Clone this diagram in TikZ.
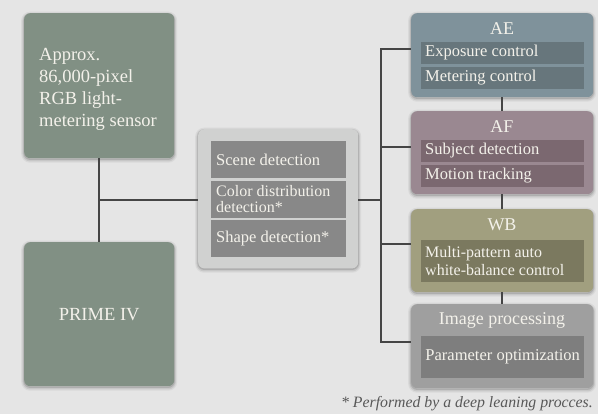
\documentclass[tikz,border=0pt]{standalone}
\usepackage{fontspec}
\setmainfont{Liberation Serif}
\usetikzlibrary{calc}
\definecolor{bg}{HTML}{E5E5E5}
\definecolor{leftc}{HTML}{819084}
\definecolor{cenc}{HTML}{D0D1D0}
\definecolor{ceni}{HTML}{888888}
\definecolor{aec}{HTML}{7F929B}
\definecolor{aei}{HTML}{67767C}
\definecolor{afc}{HTML}{9A8891}
\definecolor{afi}{HTML}{7B6870}
\definecolor{wbc}{HTML}{A19F7F}
\definecolor{wbi}{HTML}{7B795F}
\definecolor{ipc}{HTML}{9F9F9F}
\definecolor{ipi}{HTML}{7E7E7E}
\definecolor{linec}{HTML}{454545}
\definecolor{txt}{HTML}{F3F1EA}
\tikzset{
  bigbox/.style={anchor=north west, inner sep=0pt, rounded corners=6pt,
    preaction={draw=black, draw opacity=0.05, line width=6pt, transform canvas={yshift=-1.5pt}},
    preaction={draw=black, draw opacity=0.08, line width=3.5pt, transform canvas={yshift=-1.5pt}},
    preaction={draw=black, draw opacity=0.12, line width=1.5pt, transform canvas={yshift=-1pt}}},
  itembox/.style={anchor=north west, inner sep=0pt},
  lbl/.style={text=txt, inner sep=0pt},
  conn/.style={draw=linec, line width=2pt},
  bigfont/.style={font=\fontsize{18.5}{22}\selectfont},
  itemfont/.style={font=\fontsize{16.5}{16.5}\selectfont},
  titlefont/.style={font=\fontsize{18}{18}\selectfont},
}
\begin{document}
\begin{tikzpicture}[x=1pt,y=-1pt]
\fill[bg] (0,0) rectangle (598,414);
\useasboundingbox (0,0) rectangle (598,414);
% left boxes
\node[bigbox, fill=leftc, minimum width=150pt, minimum height=145pt] (sensor) at (24,13) {};
\node[lbl, anchor=west, align=left, bigfont] (sensortxt) at (39,89) {Approx.\\86,000-pixel\\RGB light-\\metering sensor};
\node[bigbox, fill=leftc, minimum width=150pt, minimum height=144pt] (prime) at (24,242) {};
\node[lbl, bigfont] (primetxt) at (prime.center) {PRIME IV};
% center box
\node[bigbox, fill=cenc, minimum width=160pt, minimum height=139pt] (cen) at (198,129) {};
\node[itembox, fill=ceni, minimum width=135pt, minimum height=37pt] (scene) at (211,141) {};
\node[itembox, fill=ceni, minimum width=135pt, minimum height=37pt] (colord) at (211,181) {};
\node[itembox, fill=ceni, minimum width=135pt, minimum height=37pt] (shape) at (211,220) {};
\node[lbl, anchor=west, itemfont] (scenetxt) at (216,159.5) {Scene detection};
\node[lbl, anchor=west, align=left, font=\fontsize{16}{16}\selectfont] (colortxt) at (216,199.5) {Color distribution\\detection*};
\node[lbl, anchor=west, itemfont] (shapetxt) at (216,238.5) {Shape detection*};
% AE
\node[bigbox, fill=aec, minimum width=182pt, minimum height=84pt] (ae) at (411,13) {};
\node[lbl, titlefont] (aet) at (502,29) {AE};
\node[itembox, fill=aei, minimum width=163pt, minimum height=22pt] (exp) at (421,42) {};
\node[itembox, fill=aei, minimum width=163pt, minimum height=22pt] (met) at (421,67) {};
\node[lbl, anchor=west, itemfont] (exptxt) at (425,53) {Exposure control};
\node[lbl, anchor=west, itemfont] (mettxt) at (425,78) {Metering control};
% AF
\node[bigbox, fill=afc, minimum width=182pt, minimum height=83pt] (af) at (411,111) {};
\node[lbl, titlefont] (aft) at (502,127) {AF};
\node[itembox, fill=afi, minimum width=163pt, minimum height=22pt] (subj) at (421,140) {};
\node[itembox, fill=afi, minimum width=163pt, minimum height=22pt] (mot) at (421,165) {};
\node[lbl, anchor=west, itemfont] (subjtxt) at (425,151) {Subject detection};
\node[lbl, anchor=west, itemfont] (mottxt) at (425,176) {Motion tracking};
% WB
\node[bigbox, fill=wbc, minimum width=182pt, minimum height=83pt] (wb) at (411,209) {};
\node[lbl, titlefont] (wbt) at (502,225) {WB};
\node[itembox, fill=wbi, minimum width=163pt, minimum height=42pt] (mpa) at (421,240) {};
\node[lbl, anchor=west, align=left, font=\fontsize{16}{18}\selectfont] (mpatxt) at (425,261) {Multi-pattern auto\\white-balance control};
% Image processing
\node[bigbox, fill=ipc, minimum width=182pt, minimum height=84pt] (ip) at (411,304) {};
\node[lbl, titlefont] (ipt) at (502,320) {Image processing};
\node[itembox, fill=ipi, minimum width=163pt, minimum height=42pt] (par) at (421,336) {};
\node[lbl, itemfont] (partxt) at (par.center) {Parameter optimization};
% footnote
\node[anchor=base east, inner sep=0pt, text=linec!90, font=\fontsize{15.8}{15.8}\selectfont\itshape] (foot) at (593,408) {* Performed by a deep leaning procces.};
% connectors
\coordinate (lj) at (99,200);
\coordinate (b1) at (381,49);
\coordinate (b2) at (381,147);
\coordinate (b3) at (381,244);
\coordinate (b4) at (381,342);
\coordinate (bc) at (381,200);
\draw[conn] (sensor.south -| lj) -- (prime.north -| lj);
\draw[conn] (lj) -- (cen.west |- lj);
\draw[conn] (cen.east |- bc) -- (bc);
\draw[conn] (ae.west |- b1) -- (b1) -- (b4) -- (ip.west |- b4);
\draw[conn] (b2) -- (af.west |- b2);
\draw[conn] (b3) -- (wb.west |- b3);
\draw[conn] (ae.south) -- (af.north);
\draw[conn] (af.south) -- (wb.north);
\draw[conn] (wb.south) -- (ip.north);
\end{tikzpicture}
\end{document}
